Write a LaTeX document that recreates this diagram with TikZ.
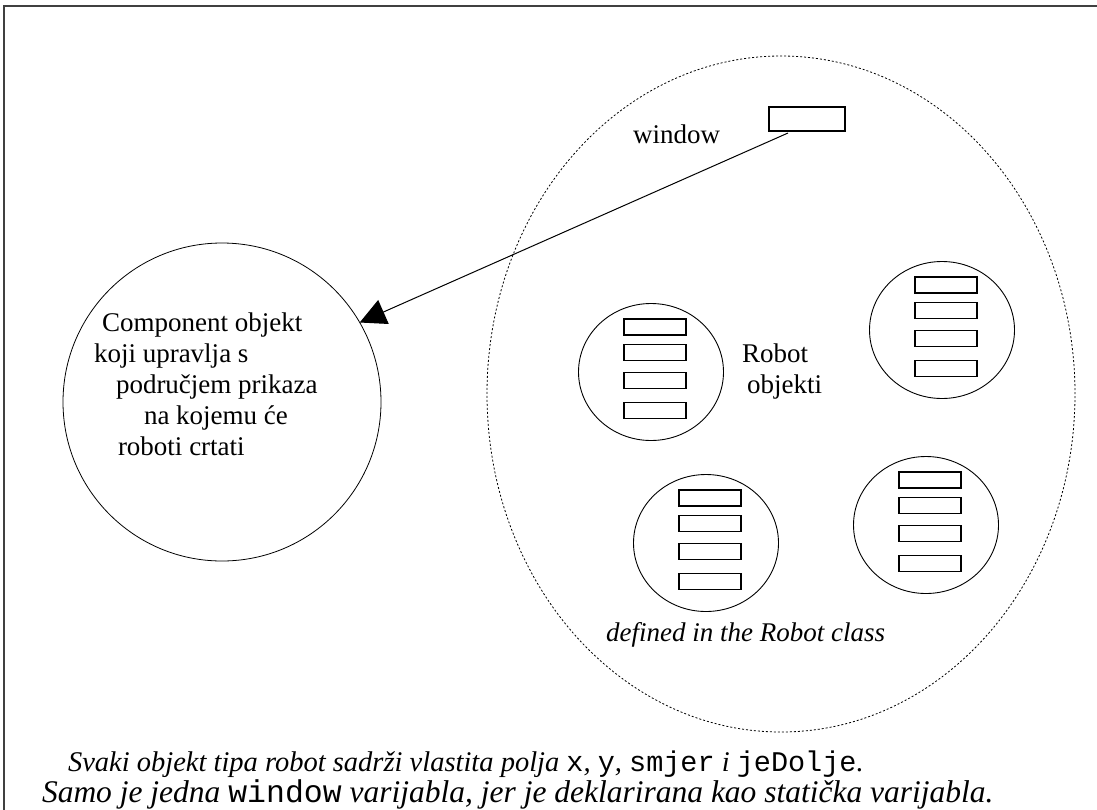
\documentclass[tikz,border=0pt]{standalone}
\usepackage{fontspec}
\setmainfont{Liberation Serif}
\newfontfamily\courfont{Liberation Mono}
\newcommand\cmono[1]{{\courfont\upshape #1}}
\usetikzlibrary{shapes.geometric,arrows.meta}
\begin{document}
\begin{tikzpicture}[x=1pt,y=-1pt,
  frameline/.style={draw=black!75,line width=1.5pt},
  txt/.style={inner sep=0pt,outer sep=0pt,anchor=base west,font=\fontsize{27}{31}\selectfont},
  robotcirc/.style={draw,ellipse,line width=0.9pt,minimum width=145pt,minimum height=137pt,inner sep=0pt,outer sep=0pt},
  field/.style={draw,rectangle,line width=1.1pt,minimum width=62pt,minimum height=16pt,inner sep=0pt,outer sep=0pt},
  bigcirc/.style={draw,circle,line width=0.8pt,minimum size=318pt,inner sep=0pt,outer sep=0pt},
  classarea/.style={draw,ellipse,line width=0.8pt,dash pattern=on 2pt off 2pt,minimum width=588pt,minimum height=676pt,inner sep=0pt,outer sep=0pt},
  link/.style={line width=1pt,-{Triangle[length=26pt,width=26pt]}}]
\useasboundingbox (0,0) rectangle (1097,809);
\draw[frameline] (4,815) -- (4,6) -- (1105,6);

% class area (dotted)
\node[classarea] (cls) at (781,394) {};

% component circle
\node[bigcirc] (big) at (222,402) {};
\node[txt] (c1) at (102,331) {Component objekt};
\node[txt] (c2) at (94,362) {koji upravlja s};
\node[txt] (c3) at (116,393) {područjem prikaza};
\node[txt] (c4) at (144,424) {na kojemu će};
\node[txt] (c5) at (118,455) {roboti crtati};

% window variable
\node[field,minimum width=76pt,minimum height=24pt] (win) at (807,119) {};
\node[txt] (winlabel) at (633,143) {window};

% robot objects
\foreach \n/\cx/\cy in {r1/651/372, r2/706/543, r3/926/525, r4/942/330} {
  \node[robotcirc] (\n) at (\cx,\cy) {};
  \foreach \o [count=\k] in {-45,-19.5,8.5,38.5}
    \node[field] (\n-\k) at (\cx+4,\cy+\o) {};
}
\node[txt] (rob1) at (742,362) {Robot};
\node[txt] (rob2) at (747,393) {objekti};
\node[txt,anchor=base east,font=\fontsize{27}{31}\selectfont\itshape] (defd) at (885,641) {defined in the Robot class};

% arrow
\draw[link] ([xshift=19pt,yshift=-2pt]win.south west) -- (big.30.5);

% notes
\node[txt,font=\fontsize{28.5}{32}\selectfont\itshape] (note1) at (68,771)
  {Svaki objekt tipa robot sadrži vlastita polja \cmono{x}, \cmono{y}, \cmono{smjer} i \cmono{jeDolje}.};
\node[txt,font=\fontsize{31.5}{34}\selectfont\itshape] (note2) at (42,802)
  {Samo je jedna \cmono{window} varijabla, jer je deklarirana kao statička varijabla.};
\end{tikzpicture}
\end{document}
